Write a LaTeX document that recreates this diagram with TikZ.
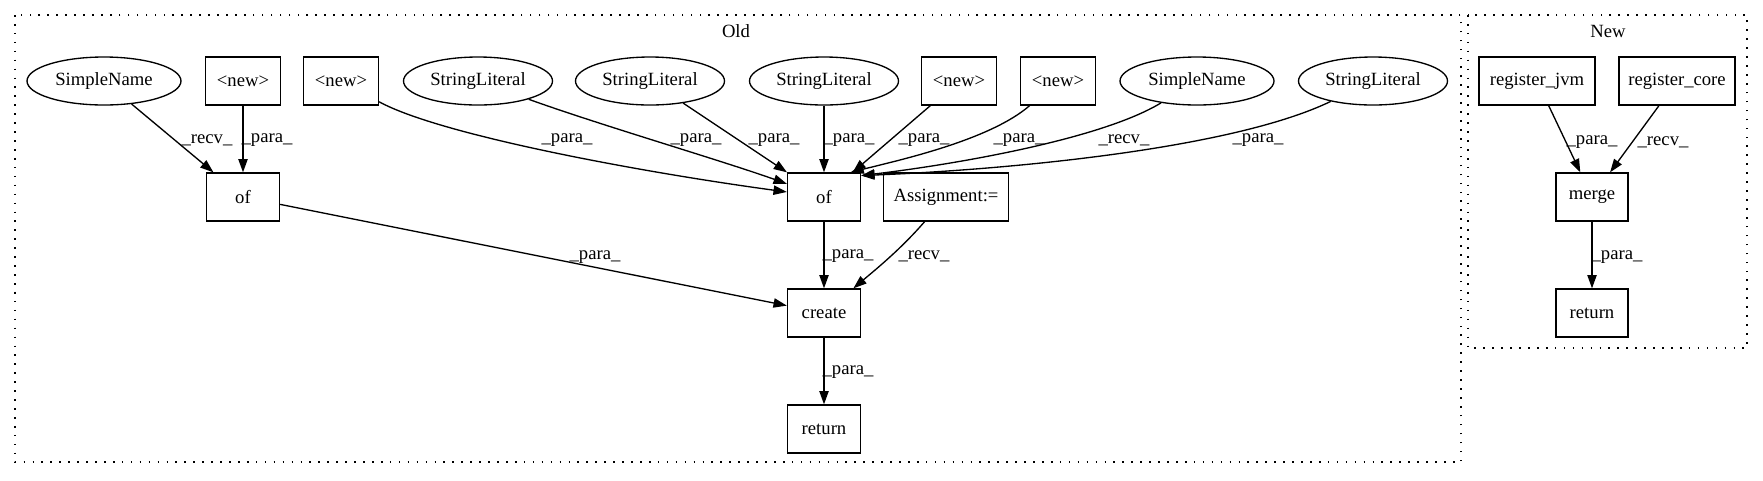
\documentclass[tikz,border=0pt]{standalone}
\usepackage{fontspec}
\setmainfont{Liberation Serif}
\usetikzlibrary{arrows.meta,shapes.geometric}
\begin{document}
\begin{tikzpicture}[x=0.75pt,y=-0.75pt,
  every node/.style={font=\fontsize{14pt}{16pt}\selectfont},
  box/.style={draw,rectangle,minimum height=36pt,inner sep=0pt,line width=1pt},
  ell/.style={draw,ellipse,minimum height=36pt,inner sep=0pt,line width=1pt},
  arr/.style={line width=1pt,-{Triangle[length=10pt,width=7pt]}},
  lab/.style={inner sep=0pt},
  clus/.style={line width=1pt,dash pattern=on 1.2pt off 5.5pt}]
\useasboundingbox (0,0) rectangle (1763,480);

% clusters
\draw[clus] (15,15) rectangle (1461,462);
\draw[clus] (1468,15) rectangle (1747,348);
\node[lab] (oldlab) at (736,31) {Old};
\node[lab] (newlab) at (1608,31) {New};

% Old: top row
\node[ell,minimum width=115.5pt] (sn1) at (104,81) {SimpleName};
\node[box,minimum width=56.25pt] (new1) at (243,81) {<new>};
\node[box,minimum width=56.25pt] (new2) at (341,81) {<new>};
\node[ell,minimum width=111.75pt] (sl1) at (478,81) {StringLiteral};
\node[ell,minimum width=111.75pt] (sl2) at (650,81) {StringLiteral};
\node[ell,minimum width=111.75pt] (sl3) at (824,81) {StringLiteral};
\node[box,minimum width=56.25pt] (new3) at (959,81) {<new>};
\node[box,minimum width=56.25pt] (new4) at (1058,81) {<new>};
\node[ell,minimum width=115.5pt] (sn2) at (1197,81) {SimpleName};
\node[ell,minimum width=111.75pt] (sl4) at (1373,81) {StringLiteral};
% Old: lower ranks
\node[box,minimum width=54.75pt] (of1) at (243,197) {of};
\node[box,minimum width=54.75pt] (of2) at (824,197) {of};
\node[box,minimum width=93.75pt] (asg) at (946,197) {Assignment:=};
\node[box,minimum width=54.75pt] (create) at (824,313) {create};
\node[box,minimum width=54.75pt] (ret1) at (824,429) {return};

% New
\node[box,minimum width=87pt] (rj) at (1537,81) {register\_jvm};
\node[box,minimum width=87pt] (rc) at (1677,81) {register\_core};
\node[box,minimum width=54pt] (merge) at (1592,197) {merge};
\node[box,minimum width=54pt] (ret2) at (1592,313) {return};

% Old edges
\draw[arr] (sn1) -- (of1);
\draw[arr] (new1) -- (of1);
\draw[arr] (new2) .. controls (440,135) and (640,172) .. (of2);
\draw[arr] (sl1) .. controls (600,125) and (720,160) .. (of2);
\draw[arr] (sl2) -- (of2);
\draw[arr] (sl3) -- (of2);
\draw[arr] (new3) -- (of2);
\draw[arr] (new4) .. controls (990,140) and (900,160) .. (of2.43);
\draw[arr] (sn2) .. controls (1100,140) and (950,165) .. (of2.30);
\draw[arr] (sl4) .. controls (1230,150) and (1000,170) .. (of2.30);
\draw[arr] (of1) -- (create);
\draw[arr] (of2) -- (create);
\draw[arr] (asg) .. controls (900,250) and (875,270) .. (create.40);
\draw[arr] (create) -- (ret1);

% New edges
\draw[arr] (rj) -- (merge);
\draw[arr] (rc) -- (merge);
\draw[arr] (merge) -- (ret2);

% edge labels
\node[lab] (l1) at (207,140) {\_recv\_};
\node[lab] (l2) at (267,140) {\_para\_};
\node[lab] (l3) at (567,140) {\_para\_};
\node[lab] (l4) at (696,140) {\_para\_};
\node[lab] (l5) at (774,140) {\_para\_};
\node[lab] (l6) at (849,140) {\_para\_};
\node[lab] (l7) at (924,140) {\_para\_};
\node[lab] (l8) at (1019,140) {\_para\_};
\node[lab] (l9) at (1124,140) {\_recv\_};
\node[lab] (l10) at (1258,140) {\_para\_};
\node[lab] (l11) at (595,257) {\_para\_};
\node[lab] (l12) at (848,256) {\_para\_};
\node[lab] (l13) at (924,256) {\_recv\_};
\node[lab] (l14) at (848,372) {\_para\_};
\node[lab] (l15) at (1592,142) {\_para\_};
\node[lab] (l16) at (1663,142) {\_recv\_};
\node[lab] (l17) at (1617,257) {\_para\_};
\end{tikzpicture}
\end{document}
